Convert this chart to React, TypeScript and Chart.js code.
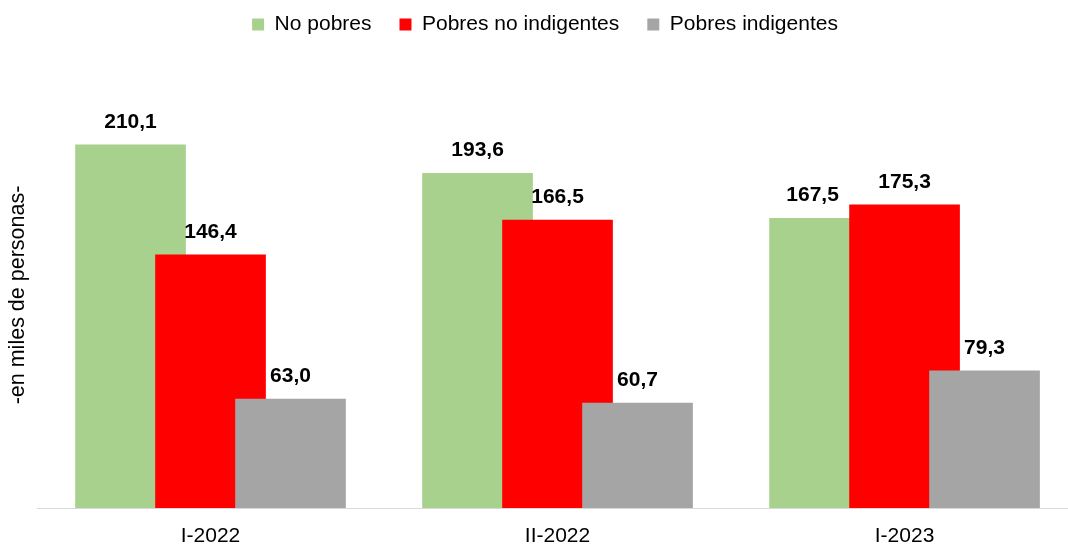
import React, { useEffect, useRef } from "react";
import { Chart, registerables } from "chart.js";

Chart.register(...registerables);

const categories = ["I-2022", "II-2022", "I-2023"];
const seriesNames = ["No pobres", "Pobres no indigentes", "Pobres indigentes"];
const noPobres = [210.1, 193.6, 167.5];
const pobresNoIndigentes = [146.4, 166.5, 175.3];
const pobresIndigentes = [63.0, 60.7, 79.3];
const colors = ["#A9D18E", "#FF0000", "#A5A5A5"];
const yTitle = "-en miles de personas-";

const seriesValues = [noPobres, pobresNoIndigentes, pobresIndigentes];
// horizontal placement of each series inside its group (category units)
const seriesShift = [-0.2305, 0, 0.2305];
// per-label horizontal nudge in px (only the last green label is moved left)
const labelNudge = [
  [0, 0, -12],
  [0, 0, 0],
  [0, 0, 0],
];

const FONT = "'Liberation Sans', Arial, sans-serif";
const fmt = (v: number) => v.toFixed(1).replace(".", ",");

const valueLabels = {
  id: "valueLabels",
  afterDatasetsDraw(chart: any) {
    const ctx = chart.ctx;
    ctx.save();
    ctx.font = "bold 21px " + FONT;
    ctx.fillStyle = "#000000";
    ctx.textAlign = "center";
    ctx.textBaseline = "alphabetic";
    chart.data.datasets.forEach((ds: any, di: number) => {
      const meta = chart.getDatasetMeta(di);
      meta.data.forEach((bar: any, i: number) => {
        const v = seriesValues[di][i];
        ctx.fillText(fmt(v), bar.x + labelNudge[di][i], bar.y - 17);
      });
    });
    ctx.restore();
  },
};

const yTitlePlugin = {
  id: "yTitlePlugin",
  afterDraw(chart: any) {
    const ctx = chart.ctx;
    ctx.save();
    ctx.translate(18, 295);
    ctx.rotate(-Math.PI / 2);
    ctx.font = "21.5px " + FONT;
    ctx.fillStyle = "#000000";
    ctx.textAlign = "center";
    ctx.textBaseline = "middle";
    ctx.fillText(yTitle, 0, 0);
    ctx.restore();
  },
};

export default function App() {
  const ref = useRef<HTMLCanvasElement | null>(null);
  useEffect(() => {
    document.body.style.margin = "0";
    const datasets = seriesValues.map((vals, di) => ({
      label: seriesNames[di],
      data: vals.map((v, i) => ({ x: i + seriesShift[di], y: v })),
      backgroundColor: colors[di],
      borderWidth: 0,
      barThickness: 110,
      grouped: false,
      order: seriesValues.length - di,
    }));
    const chart = new Chart(ref.current as HTMLCanvasElement, {
      type: "bar",
      data: { datasets },
      options: {
        animation: false,
        responsive: false,
        maintainAspectRatio: false,
        layout: { padding: { left: 0, right: -22, top: -14, bottom: 0 } },
        plugins: {
          legend: {
            display: true,
            position: "top",
            labels: {
              boxWidth: 12,
              boxHeight: 12,
              padding: 28,
              color: "#000000",
              font: { size: 21, family: FONT },
              sort: (a: any, b: any) => a.datasetIndex - b.datasetIndex,
            },
          },
          tooltip: { enabled: false },
        },
        scales: {
          x: {
            type: "linear",
            offset: false,
            min: -0.5,
            max: 2.471,
            grid: { display: false, drawTicks: false },
            border: { display: true, color: "#D9D9D9", width: 1 },
            afterBuildTicks: (axis: any) => {
              axis.ticks = categories.map((_, i) => ({ value: i }));
            },
            afterFit: (axis: any) => {
              axis.height = 36;
            },
            ticks: {
              padding: 16,
              color: "#000000",
              font: { size: 21, family: FONT },
              callback: (v: any) => categories[Math.round(Number(v))] ?? "",
              maxRotation: 0,
              autoSkip: false,
            },
          },
          y: {
            min: 0,
            max: 267.8,
            grid: { display: false, drawTicks: false },
            border: { display: false },
            ticks: { display: false },
            afterFit: (axis: any) => {
              axis.width = 37;
            },
          },
        },
      },
      plugins: [valueLabels, yTitlePlugin],
    });
    return () => chart.destroy();
  }, []);
  return (
    <div style={{ width: 1068, height: 544 }}>
      <canvas ref={ref} width={1068} height={544} style={{ display: "block" }} />
    </div>
  );
}
